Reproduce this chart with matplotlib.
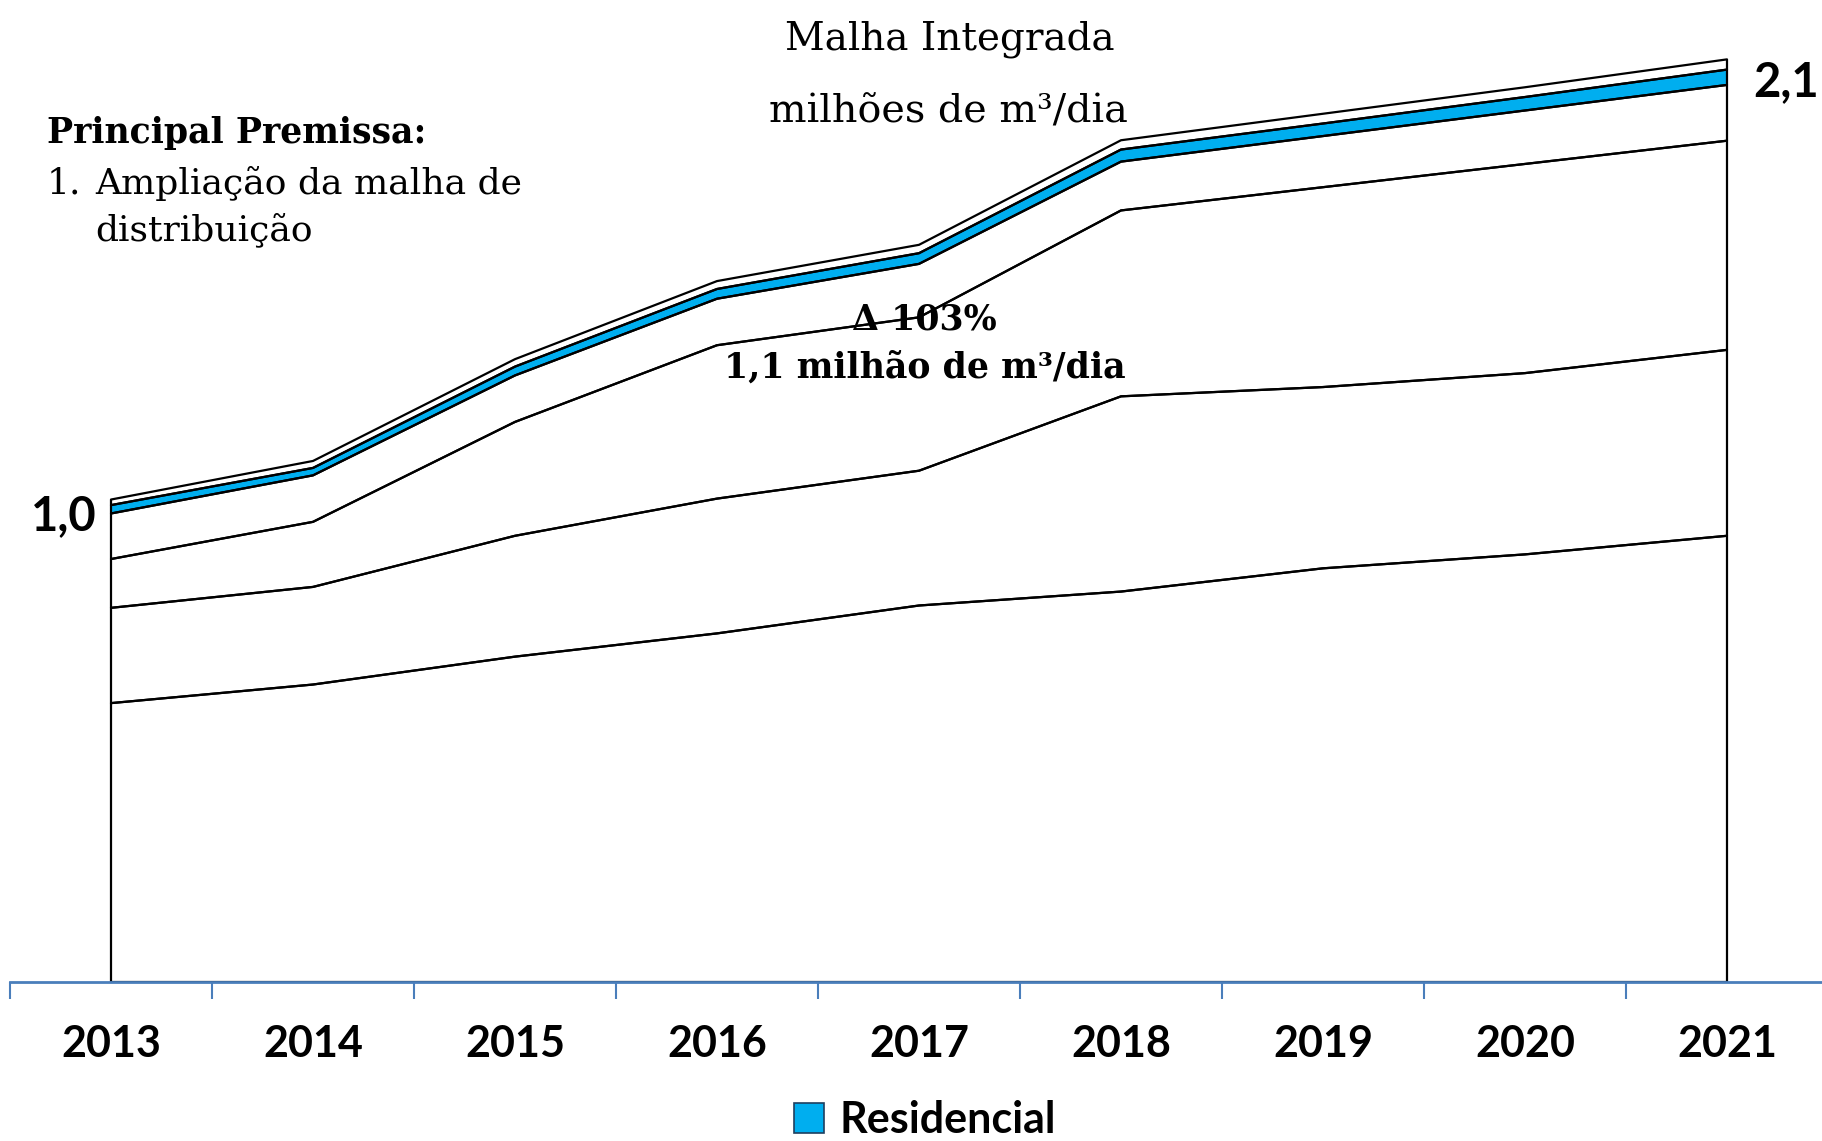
import matplotlib.pyplot as plt
from matplotlib.ticker import FixedLocator

# data (milhoes de m3/dia)
anos = ['2013', '2014', '2015', '2016', '2017', '2018', '2019', '2020', '2021']
serie_1 = [0.60, 0.64, 0.70, 0.75, 0.81, 0.84, 0.89, 0.92, 0.96]
serie_2 = [0.205, 0.21, 0.26, 0.29, 0.29, 0.42, 0.39, 0.39, 0.40]
serie_3 = [0.105, 0.14, 0.245, 0.33, 0.33, 0.40, 0.43, 0.45, 0.45]
serie_4 = [0.098, 0.10, 0.10, 0.10, 0.115, 0.105, 0.11, 0.115, 0.12]
residencial = [0.018, 0.016, 0.019, 0.021, 0.023, 0.026, 0.027, 0.029, 0.033]
serie_6 = [0.012, 0.015, 0.016, 0.017, 0.018, 0.020, 0.021, 0.021, 0.022]
series = [serie_1, serie_2, serie_3, serie_4, residencial, serie_6]

azul = '#00AEEF'
eixo = '#4A7EBB'
W, H = 1822, 1141

fig = plt.figure(figsize=(W / 100, H / 100), dpi=100)
ax = fig.add_axes([10 / W, 159 / H, (W - 10) / W, 982 / H])

x = list(range(len(anos)))
# fills first, then the outlines on top so the annotation sits between them
polys = ax.stackplot(x, *series,
                     colors=['white', 'white', 'white', 'white', azul, 'white'],
                     linewidth=0, zorder=1)
ax.stackplot(x, *series, colors=['none'] * 6, edgecolor='black',
             linewidth=1.6, zorder=3)

ax.set_xlim(-0.5, -0.5 + (W - 10) / 202)
ax.set_ylim(0, 982 / 464.8)

for s in ['top', 'left', 'right']:
    ax.spines[s].set_visible(False)
ax.spines['bottom'].set_color(eixo)
ax.spines['bottom'].set_linewidth(2)
ax.spines['bottom'].set_zorder(5)
ax.set_yticks([])

ax.set_xticks(x)
ax.set_xticklabels(anos, fontsize=31, fontweight='bold', family='Lato')
ax.tick_params(axis='x', which='major', length=0, pad=30)
ax.xaxis.set_minor_locator(FixedLocator([i - 0.5 for i in range(len(anos) + 1)]))
ax.tick_params(axis='x', which='minor', length=12, width=1.5, color=eixo, direction='out')

# value labels at the ends
fig.text(97 / W, 1 - 516 / H, '1,0', ha='right', va='center',
         fontsize=34, fontweight='bold', family='Lato')
fig.text(1753 / W, 1 - 82 / H, '2,1', ha='left', va='center',
         fontsize=34, fontweight='bold', family='Lato')

# title
serif = 'DejaVu Serif'
fig.text(950 / W, 1 - 50 / H, 'Malha Integrada', ha='center', va='baseline',
         fontsize=28, family=serif)
fig.text(948 / W, 1 - 123 / H, 'milhões de m³/dia', ha='center', va='baseline',
         fontsize=28.5, family=serif)

# premissa
fig.text(47 / W, 1 - 143 / H, 'Principal Premissa:', ha='left', va='baseline',
         fontsize=25, fontweight='bold', family=serif)
fig.text(47 / W, 1 - 194 / H, '1.', ha='left', va='baseline',
         fontsize=26, family=serif)
fig.text(95 / W, 1 - 194 / H, 'Ampliação da malha de', ha='left', va='baseline',
         fontsize=26, family=serif)
fig.text(95 / W, 1 - 240 / H, 'distribuição', ha='left', va='baseline',
         fontsize=26, family=serif)

# crescimento
ax.text(924 / W, 1 - 330 / H, 'Δ 103%', transform=fig.transFigure, ha='center',
        va='baseline', fontsize=25, fontweight='bold', family=serif, zorder=2)
ax.text(925 / W, 1 - 378 / H, '1,1 milhão de m³/dia', transform=fig.transFigure,
        ha='center', va='baseline', fontsize=25, fontweight='bold', family=serif, zorder=2)

leg = fig.legend(handles=[polys[4]], labels=['Residencial'], loc='center',
                 bbox_to_anchor=(925 / W, 1 - 1120 / H), frameon=False,
                 prop={'family': 'Lato', 'weight': 'bold', 'size': 31},
                 handlelength=0.7, handleheight=0.7, handletextpad=0.35,
                 borderpad=0, borderaxespad=0)
leg.legend_handles[0].set_edgecolor('#1F3F5F')
leg.legend_handles[0].set_linewidth(1.2)

fig.savefig('out.png', dpi=100)
